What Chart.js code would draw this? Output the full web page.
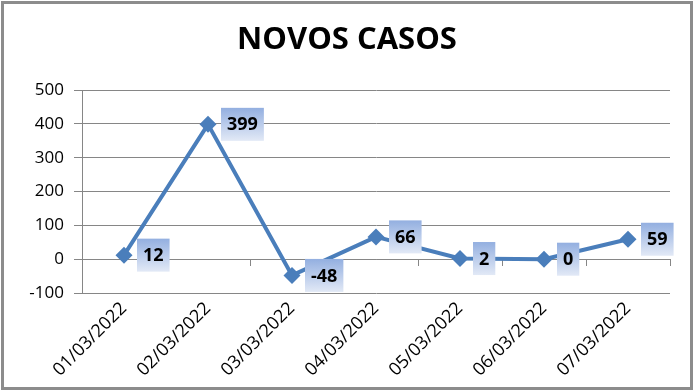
<!DOCTYPE html>
<html>
<head>
<meta charset="utf-8">
<script src="https://cdn.jsdelivr.net/npm/chart.js@4"></script>
<style>
  html, body { margin: 0; padding: 0; background: #fff; }
  canvas { display: block; }
</style>
</head>
<body>
<canvas id="casosChart" width="694" height="391"></canvas>
<script>
// dados
const dias = ['01/03/2022', '02/03/2022', '03/03/2022', '04/03/2022', '05/03/2022', '06/03/2022', '07/03/2022'];
const novosCasos = [12, 399, -48, 66, 2, 0, 59];
const yMin = -100;
const yMax = 500;
const yStep = 100;

const cinza = '#868686';
const azul = '#4A7EBB';

// fundo branco + moldura
const moldura = {
  id: 'moldura',
  beforeDraw(chart) {
    const c = chart.ctx;
    c.save();
    c.fillStyle = '#fff';
    c.fillRect(0, 0, chart.width, chart.height);
    c.restore();
  },
  afterDraw(chart) {
    const c = chart.ctx;
    c.save();
    c.strokeStyle = '#8c8c8c';
    c.lineWidth = 3;
    c.strokeRect(2.5, 2.5, chart.width - 5, chart.height - 5);
    c.restore();
  }
};

// rótulos de dados com caixa em degradê
const rotulos = {
  id: 'rotulos',
  afterDatasetsDraw(chart) {
    const c = chart.ctx;
    const meta = chart.getDatasetMeta(0);
    c.save();
    c.font = 'bold 18px "Open Sans"';
    c.textAlign = 'center';
    c.textBaseline = 'middle';
    meta.data.forEach((pt, i) => {
      const txt = String(novosCasos[i]);
      const w = c.measureText(txt).width + 12;
      const h = 33;
      const x0 = pt.x + 13;
      const y0 = pt.y - h / 2;
      const g = c.createLinearGradient(0, y0, 0, y0 + h);
      g.addColorStop(0, '#93AFE0');
      g.addColorStop(1, '#E2E9F6');
      c.fillStyle = g;
      c.fillRect(x0, y0, w, h);
      c.fillStyle = '#000';
      c.fillText(txt, x0 + w / 2, pt.y + 1);
    });
    c.restore();
  }
};

const ctx = document.getElementById('casosChart').getContext('2d');
const casosChart = new Chart(ctx, {
  type: 'line',
  data: {
    labels: dias,
    datasets: [{
      label: 'Novos casos',
      data: novosCasos,
      borderColor: azul,
      backgroundColor: azul,
      borderWidth: 4,
      pointStyle: 'rectRot',
      pointRadius: 8.5,
      pointBorderWidth: 0,
      pointBackgroundColor: azul,
      tension: 0
    }]
  },
  options: {
    responsive: false,
    animation: false,
    layout: { padding: 0 },
    plugins: {
      legend: { display: false },
      tooltip: { enabled: false },
      title: {
        display: true,
        text: 'NOVOS CASOS',
        color: '#000',
        font: { family: '"Open Sans"', size: 31, weight: 'bold' },
        padding: { top: 22, bottom: 31 }
      }
    },
    scales: {
      x: {
        type: 'category',
        offset: true,
        grid: { display: false },
        border: { display: false },
        ticks: {
          color: '#000',
          font: { family: '"Open Sans"', size: 18 },
          minRotation: 45,
          maxRotation: 45,
          padding: -3
        },
        afterFit(scale) { scale.height = 98; }
      },
      x2: {
        type: 'category',
        axis: 'x',
        position: { y: 0 },
        offset: true,
        grid: { drawOnChartArea: false, offset: true, tickLength: 6, color: cinza },
        border: { display: true, color: cinza },
        ticks: { display: false }
      },
      y: {
        min: yMin,
        max: yMax,
        ticks: {
          stepSize: yStep,
          color: '#000',
          font: { family: '"Open Sans"', size: 17 },
          padding: 10
        },
        grid: { color: cinza, tickLength: 8 },
        border: { display: true, color: cinza },
        afterFit(scale) { scale.width = 82; }
      },
      // margem direita vazia (mantém o título centrado na largura total)
      margem: {
        type: 'linear',
        axis: 'y',
        position: 'right',
        grid: { display: false, drawOnChartArea: false },
        border: { display: false },
        ticks: { display: false },
        afterFit(scale) { scale.width = 24; }
      }
    }
  },
  plugins: [moldura, rotulos]
});
</script>
</body>
</html>
